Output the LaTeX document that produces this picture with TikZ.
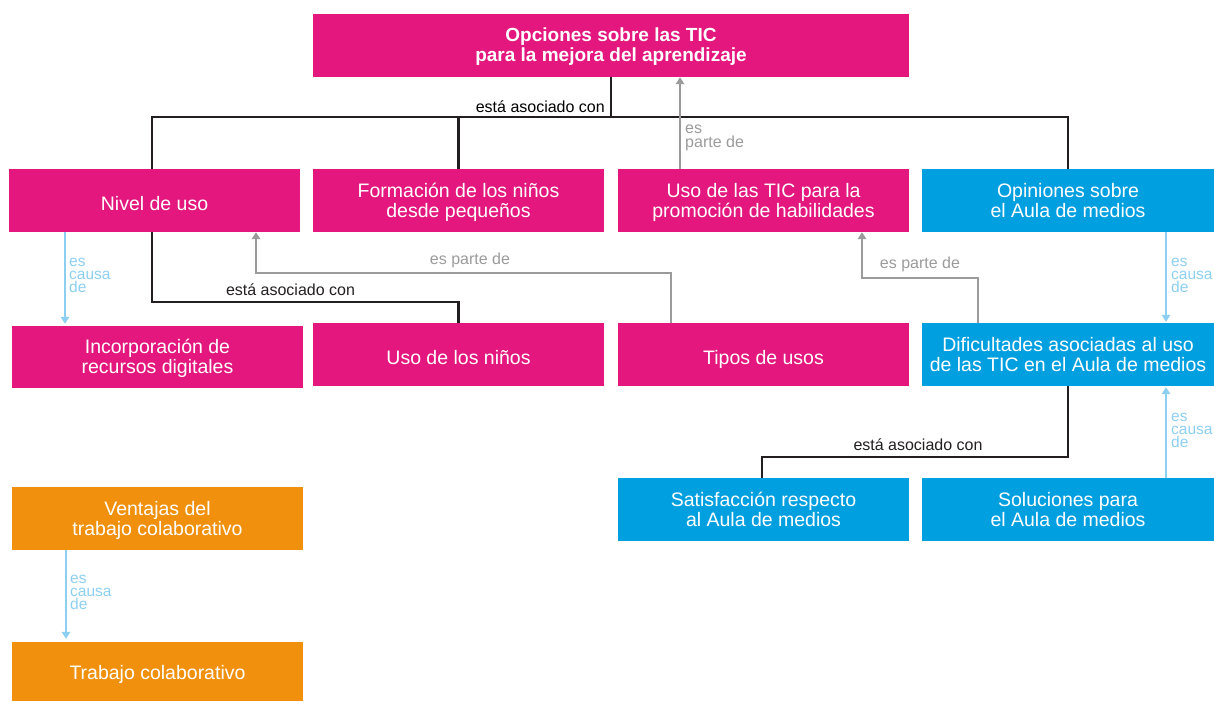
\documentclass[tikz,border=0pt]{standalone}
\usepackage{fontspec}
\setmainfont{Liberation Sans}
\usetikzlibrary{arrows.meta}
\definecolor{mag}{HTML}{E3177E}
\definecolor{blu}{HTML}{009FE0}
\definecolor{ora}{HTML}{F0900C}
\definecolor{lblu}{HTML}{8DCFF1}
\definecolor{gry}{HTML}{9B9B9B}
\definecolor{blk}{HTML}{231F20}
\newcommand\bt[2][-2.5pt]{\raisebox{#1}[\height][\depth]{\begin{tabular}{@{}c@{}}#2\end{tabular}}}
\tikzset{
  box/.style={inner sep=0pt, text=white, font=\fontsize{19.5}{19.5}\selectfont, minimum width=291, minimum height=63},
  mbox/.style={box, fill=mag},
  bbox/.style={box, fill=blu},
  obox/.style={box, fill=ora},
  blkline/.style={draw=blk, line width=2.2pt},
  gryline/.style={draw=gry, line width=2.2pt, -{Triangle[length=7pt,width=8.5pt]}},
  bluline/.style={draw=lblu, line width=2.2pt, -{Triangle[length=7pt,width=8.5pt]}},
  lbl/.style={inner sep=0pt, font=\fontsize{16}{16}\selectfont},
  clbl/.style={inner sep=0pt, align=left, text=lblu, font=\fontsize{15.5}{12.8}\selectfont, anchor=north west},
}
\begin{document}
\begin{tikzpicture}[x=1pt,y=-1pt]
\useasboundingbox (0,0) rectangle (1214,701);
% boxes
\node[mbox, minimum width=596, font=\bfseries\fontsize{19}{20}\selectfont] (top) at (611,45.5) {\bt{Opciones sobre las TIC\\para la mejora del aprendizaje}};
\node[mbox] (nivel) at (154.5,200.5) {\bt[-5.8pt]{Nivel de uso}};
\node[mbox] (formacion) at (458.5,200.5) {\bt{Formación de los niños\\desde pequeños}};
\node[mbox] (usotic) at (763.5,200.5) {\bt{Uso de las TIC para la\\promoción de habilidades}};
\node[bbox, minimum width=292] (opiniones) at (1068,200.5) {\bt{Opiniones sobre\\el Aula de medios}};
\node[mbox, minimum height=62] (incorp) at (157.5,357) {\bt{Incorporación de\\recursos digitales}};
\node[mbox] (usoninos) at (458.5,354.5) {\bt[-5.5pt]{Uso de los niños}};
\node[mbox] (tipos) at (763.5,354.5) {\bt[-5.5pt]{Tipos de usos}};
\node[bbox, minimum width=292] (dific) at (1068,354.5) {\bt{Dificultades asociadas al uso\\de las TIC en el Aula de medios}};
\node[bbox] (satisf) at (763.5,509.5) {\bt{Satisfacción respecto\\al Aula de medios}};
\node[bbox, minimum width=292] (soluc) at (1068,509.5) {\bt{Soluciones para\\el Aula de medios}};
\node[obox] (ventajas) at (157.5,518.5) {\bt{Ventajas del\\trabajo colaborativo}};
\node[obox, minimum height=59] (trabajo) at (157.5,671.5) {\bt[-3.5pt]{Trabajo colaborativo}};
% junction points
\coordinate (j) at (611,117);
\coordinate (k) at (458.5,302);
\coordinate (g1) at (671,273);
\coordinate (g2) at (978,278);
\coordinate (s) at (1068,457);
% black tree from top
\draw[blkline] (top.south) -- (j);
\draw[blkline] ([xshift=-2.5]nivel.north) |- (opiniones.north |- j) -- (opiniones.north);
\draw[blkline] (formacion.north) -- (formacion.north |- j);
\node[lbl, anchor=east] (l1) at (605,107) {está asociado con};
% usotic -> top
\draw[gryline] ([xshift=-83.5]usotic.north) -- ([xshift=-83.5]usotic.north |- top.south);
\node[lbl, text=gry, align=left, anchor=north west, font=\fontsize{16}{14}\selectfont] (l2) at (685,125) {es\\parte de};
% nivel -> incorp
\draw[bluline, shorten >=2pt] ([xshift=-89.5]nivel.south) -- ([xshift=-89.5]nivel.south |- incorp.north);
\node[clbl] (l3) at (69,258) {es\\causa\\de};
% nivel -- usoninos
\draw[blkline] ([xshift=-2.5]nivel.south) |- (k) -- (usoninos.north);
\node[lbl, text=blk] (l4) at (290.5,290) {está asociado con};
% tipos -> nivel
\draw[gryline] (g1 |- tipos.north) -- (g1) -| ([xshift=101.5]nivel.south);
\node[lbl, text=gry] (l5) at (470,260) {es parte de};
% dific -> usotic
\draw[gryline] (g2 |- dific.north) -- (g2) -| ([xshift=98.5]usotic.south);
\node[lbl, text=gry] (l6) at (920,264) {es parte de};
% opiniones -> dific
\draw[bluline, shorten >=1pt] ([xshift=98]opiniones.south) -- ([xshift=98]opiniones.south |- dific.north);
\node[clbl] (l7) at (1171,258) {es\\causa\\de};
% dific -- satisf
\draw[blkline] (dific.south) -- (s) -| ([xshift=-1.5]satisf.north);
\node[lbl, text=blk] (l8) at (918,445) {está asociado con};
% soluc -> dific
\draw[bluline, shorten >=1pt] ([xshift=98]soluc.north) -- ([xshift=98]soluc.north |- dific.south);
\node[clbl] (l9) at (1171,413) {es\\causa\\de};
% ventajas -> trabajo
\draw[bluline, shorten >=3pt] ([xshift=-91.5]ventajas.south) -- ([xshift=-91.5]ventajas.south |- trabajo.north);
\node[clbl] (l10) at (70,575) {es\\causa\\de};
\end{tikzpicture}
\end{document}
